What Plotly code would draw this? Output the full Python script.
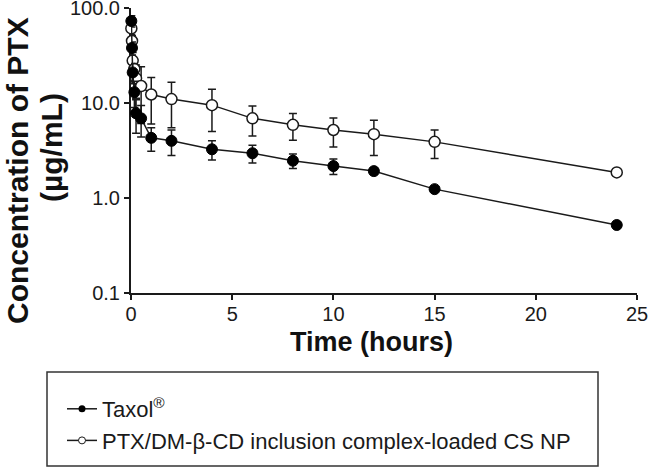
import plotly.graph_objects as go

# ---- data ----
time_h = [0.017, 0.05, 0.083, 0.167, 0.25, 0.5, 1, 2, 4, 6, 8, 10, 12, 15, 24]
taxol = [73, 38, 21, 13, 7.8, 6.9, 4.3, 4.0, 3.26, 2.96, 2.47, 2.17, 1.92, 1.24, 0.52]
taxol_sd = [10, 6, 5, 4, 3, 2.5, 1.2, 1.2, 0.75, 0.63, 0.43, 0.4, 0.15, 0.05, 0.03]
np_conc = [61, 45, 28, 22.8, 18.2, 15.1, 12.3, 11.0, 9.5, 6.9, 5.9, 5.2, 4.7, 3.9, 1.86]
np_sd = [8, 6, 6, 6, 7, 9, 6.3, 5.5, 4.5, 2.4, 1.85, 1.75, 1.9, 1.3, 0.1]

series_names = ["Taxol<sup>®</sup>", "PTX/DM-β-CD inclusion complex-loaded CS NP"]
y_tickvals = [0.1, 1, 10, 100]
y_ticktext = ["0.1", "1.0", "10.0", "100.0"]
x_tickvals = [0, 5, 10, 15, 20, 25]

FONT = "Arial, Liberation Sans, sans-serif"

fig = go.Figure()

# NP series (open circles)
fig.add_trace(go.Scatter(
    x=time_h, y=np_conc, mode="lines+markers", showlegend=False,
    line=dict(color="#1a1a1a", width=1.5),
    marker=dict(symbol="circle", size=11, color="white",
                line=dict(color="#1a1a1a", width=1.5)),
    error_y=dict(type="data", array=np_sd, color="#1a1a1a", thickness=1.5, width=4),
    cliponaxis=False,
))
# Taxol series (filled circles)
fig.add_trace(go.Scatter(
    x=time_h, y=taxol, mode="lines+markers", showlegend=False,
    line=dict(color="#1a1a1a", width=1.5),
    marker=dict(symbol="circle", size=11, color="black",
                line=dict(color="black", width=1)),
    error_y=dict(type="data", array=taxol_sd, color="#1a1a1a", thickness=1.5, width=4),
    cliponaxis=False,
))

# legend entries (small markers as in the reference)
fig.add_trace(go.Scatter(
    x=[None], y=[None], mode="lines+markers", name=series_names[0],
    line=dict(color="#1a1a1a", width=1.5),
    marker=dict(symbol="circle", size=7, color="black"),
))
fig.add_trace(go.Scatter(
    x=[None], y=[None], mode="lines+markers", name=series_names[1],
    line=dict(color="#1a1a1a", width=1.5),
    marker=dict(symbol="circle", size=7, color="white",
                line=dict(color="#1a1a1a", width=1)),
))

W, H = 649, 468
X0, X1 = 131, 637   # plot area, pixels
Y0, Y1 = 8, 293


def px(xp):
    return xp / W


def py(yp):
    return (H - yp) / H


fig.update_layout(
    width=W, height=H,
    margin=dict(l=0, r=0, t=0, b=0, autoexpand=False),
    paper_bgcolor="white", plot_bgcolor="white",
    font=dict(family=FONT, color="#1a1a1a"),
    xaxis=dict(
        domain=[px(X0), px(X1)],
        range=[0, 25], tickvals=x_tickvals, showgrid=False, zeroline=False,
        showline=True, linecolor="#1a1a1a", linewidth=2,
        ticks="outside", ticklen=5, tickwidth=2, tickcolor="#1a1a1a",
        tickfont=dict(size=20, family=FONT), layer="below traces",
        ticklabeloverflow="allow", ticklabelstandoff=-3,
    ),
    yaxis=dict(
        domain=[py(Y1), py(Y0)],
        type="log", range=[-1, 2.0005], tickvals=y_tickvals, ticktext=y_ticktext,
        showgrid=False, zeroline=False,
        showline=True, linecolor="#1a1a1a", linewidth=2,
        ticks="outside", ticklen=5, tickwidth=2, tickcolor="#1a1a1a",
        tickfont=dict(size=20, family=FONT), layer="below traces",
        ticklabeloverflow="allow",
    ),
    legend=dict(
        x=px(62), y=py(388), xanchor="left", yanchor="top",
        bgcolor="rgba(0,0,0,0)", borderwidth=0,
        font=dict(size=22, family=FONT, color="#1a1a1a"),
        tracegroupgap=0,
    ),
    shapes=[dict(
        type="rect", xref="paper", yref="paper",
        x0=px(47), x1=px(598), y0=py(372), y1=py(466),
        line=dict(color="#333333", width=1.5), fillcolor="rgba(0,0,0,0)",
    )],
    annotations=[
        dict(text="<b>Time (hours)</b>", xref="paper", yref="paper",
             x=px(371), y=py(342), xanchor="center", yanchor="middle",
             showarrow=False, font=dict(size=27, family=FONT, color="#111")),
        dict(text="<b>Concentration of PTX</b>", xref="paper", yref="paper",
             x=px(17), y=py(171), xanchor="center", yanchor="middle", textangle=-90,
             showarrow=False, font=dict(size=30, family=FONT, color="#111")),
        dict(text="<b>(µg/mL)</b>", xref="paper", yref="paper",
             x=px(51), y=py(148), xanchor="center", yanchor="middle", textangle=-90,
             showarrow=False, font=dict(size=30, family=FONT, color="#111")),
    ],
)

fig.write_html("out.html", post_script="document.body.style.margin='0px';",
               config={"displayModeBar": False})
